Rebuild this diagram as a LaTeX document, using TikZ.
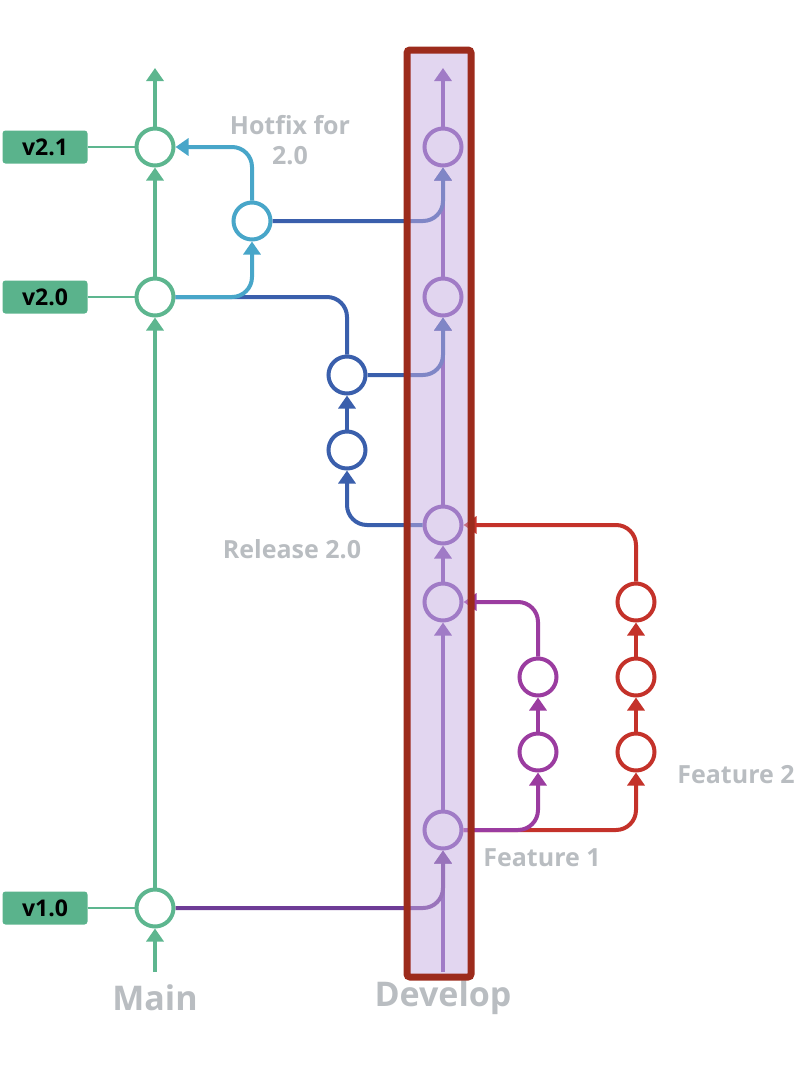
\documentclass[tikz,border=0pt]{standalone}
\usepackage{fontspec}
\setmainfont{Open Sans}
\usepackage{xcolor}
\usetikzlibrary{arrows.meta, positioning}

\definecolor{mainc}{HTML}{5DB68F}
\definecolor{tagc}{HTML}{5AB38C}
\definecolor{devc}{HTML}{7B49AB}
\definecolor{bandc}{HTML}{C5ADE1}
\definecolor{framec}{HTML}{9C2B1C}
\definecolor{hotc}{HTML}{48A6C9}
\definecolor{relc}{HTML}{3A5FAC}
\definecolor{feata}{HTML}{9B3CA0}
\definecolor{featb}{HTML}{C4322A}
\definecolor{mergec}{HTML}{6E3C96}
\definecolor{labc}{HTML}{B9BDC1}

\begin{document}
\begin{tikzpicture}[
x=1pt, y=-1pt,
node distance = 34pt,
commit/.style = {circle, draw=#1, line width=4pt, fill=white,
                 inner sep=0pt, minimum size=37pt},
tag/.style = {fill=tagc, rounded corners=3pt, minimum width=85pt,
              minimum height=33pt, font=\bfseries\fontsize{23}{25}\selectfont},
link/.style = {draw=#1, line width=4pt, rounded corners=20pt,
               -{Triangle[width=17pt,length=13pt]}},
join/.style = {draw=#1, line width=4pt, rounded corners=20pt},
lab/.style = {text=labc, font=\bfseries\fontsize{25}{30}\selectfont, align=center},
big/.style = {text=labc, font=\bfseries\fontsize{34}{36}\selectfont},
                        ]
\useasboundingbox (0,0) rectangle (800,1076);
% main
\node (m1) [commit=mainc] at (155,908) {};
\node (m2) [commit=mainc] at (155,297) {};
\node (m3) [commit=mainc] at (155,147) {};
\coordinate (mtop) at (155,68);
\coordinate (mbot) at (155,972);
% develop
\node (d1) [commit=devc] at (443,830) {};
\node (d2) [commit=devc] at (443,602) {};
\node (d3) [commit=devc] at (443,525) {};
\node (d4) [commit=devc] at (443,297) {};
\node (d5) [commit=devc] at (443,147) {};
\coordinate (dtop) at (443,68);
\coordinate (dbot) at (443,972);
% branches
\node (h1)  [commit=hotc] at (252,221) {};
\node (r1)  [commit=relc] at (347,450) {};
\node (r2)  [commit=relc, above=of r1] {};
\node (fa1) [commit=feata] at (538,752) {};
\node (fa2) [commit=feata, above=of fa1] {};
\node (fb1) [commit=featb] at (636,752) {};
\node (fb2) [commit=featb, above=of fb1] {};
\node (fb3) [commit=featb, above=of fb2] {};
% tags
\node (t1) [tag] at (45,908) {v1.0};
\node (t2) [tag] at (45,297) {v2.0};
\node (t3) [tag] at (45,147) {v2.1};
\foreach \t/\m in {t1/m1, t2/m2, t3/m3}
    \draw[mainc, line width=2pt] (\t.east) -- (\m.west);
% labels
\node (lhf)  [lab] at (290,140) {Hotfix for\\2.0};
\node (lrel) [lab] at (292,549) {Release 2.0};
\node (lfa)  [lab] at (542,858) {Feature 1};
\node (lfb)  [lab] at (736,775) {Feature 2};
\node (lm)   [big] at (155,998) {Main};
\node (ld)   [big] at (443,998) {Develop};
% lines
\draw[link=mainc] (mbot) -- (m1);
\draw[link=mainc] (m1) -- (m2);
\draw[link=mainc] (m2) -- (m3);
\draw[link=mainc] (m3) -- (mtop);
\draw[link=devc] (dbot) -- (d1);
\draw[link=devc] (d1) -- (d2);
\draw[link=devc] (d2) -- (d3);
\draw[link=devc] (d3) -- (d4);
\draw[link=devc] (d4) -- (d5);
\draw[link=devc] (d5) -- (dtop);
\draw[link=mergec] (m1.east) -| (d1.south);
\draw[link=featb] (d1.east) -| (fb1.south);
\draw[link=feata] (d1.east) -| (fa1.south);
\draw[link=feata] (fa1) -- (fa2);
\draw[link=feata] (fa2.north) |- (d2.east);
\draw[link=featb] (fb1) -- (fb2);
\draw[link=featb] (fb2) -- (fb3);
\draw[link=featb] (fb3.north) |- (d3.east);
\draw[link=relc] (d3.west) -| (r1.south);
\draw[link=relc] (r1) -- (r2);
\draw[link=relc] (r2.east) -| (d4.south);
\draw[join=relc] (r2.north) |- (m2.east);
\draw[link=hotc] (m2.east) -| (h1.south);
\draw[link=hotc] (h1.north) |- (m3.east);
\draw[link=relc] (h1.east) -| (d5.south);
% develop band
\fill[bandc, opacity=0.5] (407,50) rectangle (471,977);
\draw[framec, line width=7pt, rounded corners=3pt] (407,50) rectangle (471,977);
\end{tikzpicture}
\end{document}
